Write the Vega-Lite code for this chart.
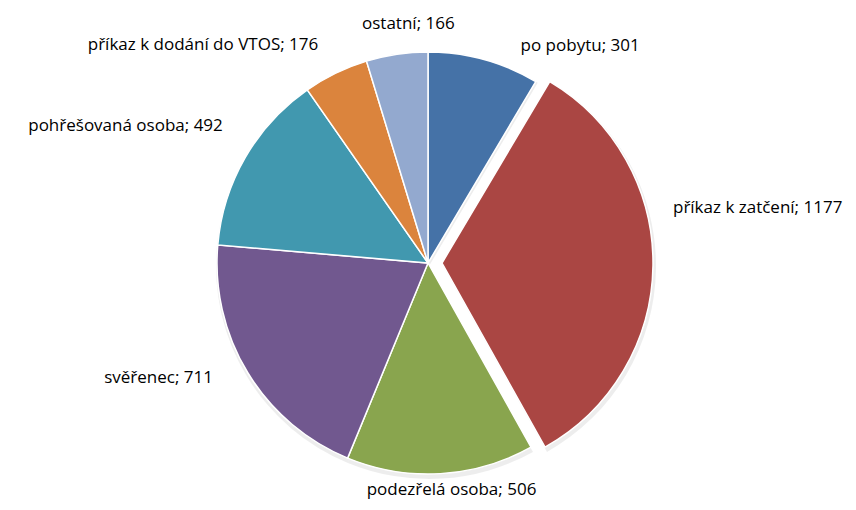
{
  "$schema": "https://vega.github.io/schema/vega-lite/v6.json",
  "width": 856,
  "height": 494,
  "padding": {"top": 16, "left": 0, "right": 0, "bottom": 0},
  "autosize": {"type": "none"},
  "background": "white",
  "view": {"stroke": null},
  "config": {"text": {"font": "Open Sans", "fontSize": 17, "color": "black"}},
  "data": {
    "values": [
      {"kategorie": "po pobytu", "pocet": 301},
      {"kategorie": "příkaz k zatčení", "pocet": 1177},
      {"kategorie": "podezřelá osoba", "pocet": 506},
      {"kategorie": "svěřenec", "pocet": 711},
      {"kategorie": "pohřešovaná osoba", "pocet": 492},
      {"kategorie": "příkaz k dodání do VTOS", "pocet": 176},
      {"kategorie": "ostatní", "pocet": 166}
    ]
  },
  "transform": [
    {"window": [{"op": "row_number", "as": "i"}]},
    {"calculate": "datum.kategorie + '; ' + datum.pocet", "as": "label"}
  ],
  "encoding": {
    "theta": {"field": "pocet", "type": "quantitative", "stack": true},
    "order": {"field": "i", "type": "quantitative"}
  },
  "layer": [
    {
      "mark": {"type": "arc", "radius": 213, "fill": "#000000", "fillOpacity": 0.07, "yOffset": 3, "xOffset": 1},
      "encoding": {
        "opacity": {"condition": {"test": "datum.kategorie === 'příkaz k zatčení'", "value": 0}, "value": 1}
      }
    },
    {
      "mark": {"type": "arc", "radius": 213, "fill": "#000000", "fillOpacity": 0.07, "yOffset": 3, "xOffset": 15},
      "encoding": {
        "opacity": {"condition": {"test": "datum.kategorie === 'příkaz k zatčení'", "value": 1}, "value": 0}
      }
    },
    {
      "mark": {"type": "arc", "radius": 211, "stroke": "white", "strokeWidth": 1.5},
      "encoding": {
        "color": {"field": "kategorie", "type": "nominal", "legend": null,
          "scale": {"domain": ["po pobytu", "příkaz k zatčení", "podezřelá osoba", "svěřenec", "pohřešovaná osoba", "příkaz k dodání do VTOS", "ostatní"],
                    "range": ["#4572A7", "#AA4643", "#89A54E", "#71588F", "#4198AF", "#DB843D", "#93A9CF"]}},
        "opacity": {"condition": {"test": "datum.kategorie === 'příkaz k zatčení'", "value": 0}, "value": 1}
      }
    },
    {
      "mark": {"type": "arc", "radius": 211, "stroke": "white", "strokeWidth": 1.5, "xOffset": 14},
      "encoding": {
        "color": {"field": "kategorie", "type": "nominal", "legend": null},
        "opacity": {"condition": {"test": "datum.kategorie === 'příkaz k zatčení'", "value": 1}, "value": 0}
      }
    },
    {
      "mark": {"type": "text", "radius": 242, "dx": 16, "align": "center", "baseline": "middle"},
      "encoding": {"text": {"condition": {"test": "datum.kategorie === 'ostatní'", "field": "label", "type": "nominal"}, "value": ""}}
    },
    {
      "mark": {"type": "text", "radius": 225, "dx": 33, "align": "left", "baseline": "middle"},
      "encoding": {"text": {"condition": {"test": "datum.kategorie === 'po pobytu'", "field": "label", "type": "nominal"}, "value": ""}}
    },
    {
      "mark": {"type": "text", "radius": 242, "dx": -4, "align": "right", "baseline": "middle"},
      "encoding": {"text": {"condition": {"test": "datum.kategorie === 'příkaz k dodání do VTOS'", "field": "label", "type": "nominal"}, "value": ""}}
    },
    {
      "mark": {"type": "text", "radius": 237, "dy": -18, "align": "right", "baseline": "middle"},
      "encoding": {"text": {"condition": {"test": "datum.kategorie === 'pohřešovaná osoba'", "field": "label", "type": "nominal"}, "value": ""}}
    },
    {
      "mark": {"type": "text", "radius": 240, "dx": -10, "dy": -10, "align": "right", "baseline": "middle"},
      "encoding": {"text": {"condition": {"test": "datum.kategorie === 'svěřenec'", "field": "label", "type": "nominal"}, "value": ""}}
    },
    {
      "mark": {"type": "text", "radius": 231, "dx": 14, "dy": -58, "align": "left", "baseline": "middle"},
      "encoding": {"text": {"condition": {"test": "datum.kategorie === 'příkaz k zatčení'", "field": "label", "type": "nominal"}, "value": ""}}
    },
    {
      "mark": {"type": "text", "radius": 227, "dx": 10, "align": "center", "baseline": "middle"},
      "encoding": {"text": {"condition": {"test": "datum.kategorie === 'podezřelá osoba'", "field": "label", "type": "nominal"}, "value": ""}}
    }
  ]
}
